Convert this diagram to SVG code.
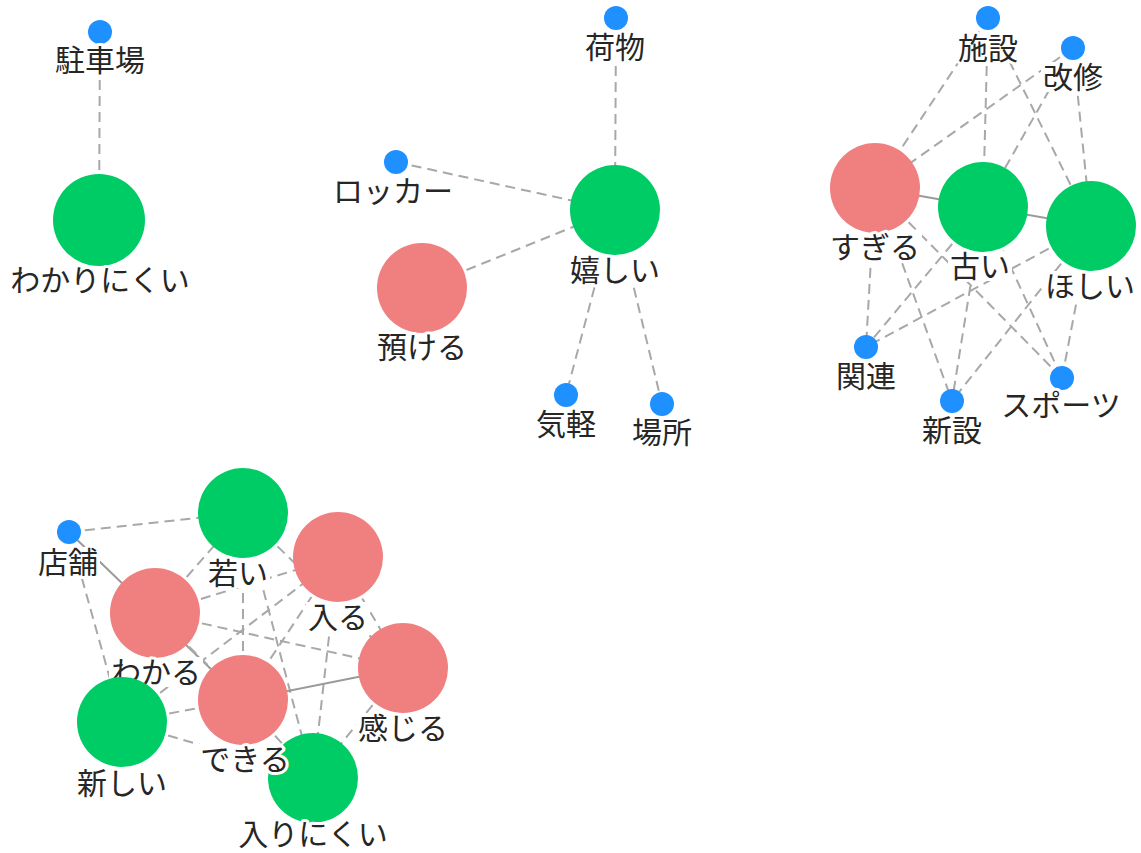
<svg xmlns="http://www.w3.org/2000/svg" width="1141" height="853" viewBox="0 0 1141 853">
<style>
.e{stroke:#a8a8a8;stroke-width:2;stroke-dasharray:10 6;fill:none}
.s{stroke:#9a9a9a;stroke-width:2;fill:none}
.g{fill:#00cc66}
.r{fill:#f08080}
.b{fill:#1e90ff}
text{font-family:"Noto Sans CJK JP","Noto Sans",sans-serif;font-size:30px;fill:#262626;text-anchor:middle;stroke:#fff;stroke-width:6px;stroke-linejoin:round;paint-order:stroke}
</style>
<defs>
<mask id="lm" maskUnits="userSpaceOnUse" x="0" y="0" width="1141" height="853">
<rect x="0" y="0" width="1141" height="853" fill="#fff"/>
<g fill="#000">
<rect x="53" y="45" width="94" height="30"/>
<rect x="8" y="265" width="184" height="30"/>
<rect x="583" y="32" width="64" height="30"/>
<rect x="568" y="255" width="94" height="30"/>
<rect x="331" y="176" width="124" height="30"/>
<rect x="375" y="332" width="94" height="30"/>
<rect x="534" y="409" width="64" height="30"/>
<rect x="630" y="417" width="64" height="30"/>
<rect x="956" y="33" width="64" height="30"/>
<rect x="1041" y="62" width="64" height="30"/>
<rect x="828" y="232" width="94" height="30"/>
<rect x="948" y="251" width="64" height="30"/>
<rect x="1043" y="271" width="94" height="30"/>
<rect x="834" y="361" width="64" height="30"/>
<rect x="920" y="415" width="64" height="30"/>
<rect x="999" y="390" width="124" height="30"/>
<rect x="36" y="547" width="64" height="30"/>
<rect x="206" y="558" width="64" height="30"/>
<rect x="306" y="602" width="64" height="30"/>
<rect x="109" y="657" width="94" height="30"/>
<rect x="356" y="713" width="94" height="30"/>
<rect x="198" y="744" width="94" height="30"/>
<rect x="75" y="768" width="94" height="30"/>
<rect x="236" y="820" width="154" height="30"/>
</g>
</mask>
</defs>
<rect x="0" y="0" width="1141" height="853" fill="#fff"/>
<g id="connectors" mask="url(#lm)">
<line class="e" x1="100" y1="32" x2="99" y2="220"/>
<line class="e" x1="616" y1="18" x2="615" y2="210"/>
<line class="e" x1="396" y1="162" x2="615" y2="210"/>
<line class="e" x1="422" y1="288" x2="615" y2="210"/>
<line class="e" x1="615" y1="210" x2="566" y2="395"/>
<line class="e" x1="615" y1="210" x2="662" y2="404"/>
<line class="e" x1="988" y1="18" x2="875" y2="188"/>
<line class="e" x1="988" y1="18" x2="983" y2="207"/>
<line class="e" x1="988" y1="18" x2="1091" y2="226"/>
<line class="e" x1="1073" y1="48" x2="875" y2="188"/>
<line class="e" x1="1073" y1="48" x2="983" y2="207"/>
<line class="e" x1="1073" y1="48" x2="1091" y2="226"/>
<line class="s" x1="875" y1="188" x2="983" y2="207"/>
<line class="s" x1="983" y1="207" x2="1091" y2="226"/>
<line class="e" x1="875" y1="188" x2="866" y2="347"/>
<line class="e" x1="875" y1="188" x2="952" y2="401"/>
<line class="e" x1="875" y1="188" x2="1062" y2="378"/>
<line class="e" x1="983" y1="207" x2="866" y2="347"/>
<line class="e" x1="983" y1="207" x2="952" y2="401"/>
<line class="e" x1="983" y1="207" x2="1062" y2="378"/>
<line class="e" x1="1091" y1="226" x2="866" y2="347"/>
<line class="e" x1="1091" y1="226" x2="952" y2="401"/>
<line class="e" x1="1091" y1="226" x2="1062" y2="378"/>
<line class="e" x1="69" y1="532" x2="243" y2="513"/>
<line class="e" x1="69" y1="532" x2="122" y2="722"/>
<line class="s" x1="69" y1="532" x2="243" y2="700"/>
<line class="e" x1="155" y1="613" x2="243" y2="513"/>
<line class="e" x1="155" y1="613" x2="338" y2="557"/>
<line class="e" x1="155" y1="613" x2="403" y2="668"/>
<line class="e" x1="155" y1="613" x2="243" y2="700"/>
<line class="e" x1="122" y1="722" x2="338" y2="557"/>
<line class="e" x1="122" y1="722" x2="243" y2="700"/>
<line class="e" x1="122" y1="722" x2="313" y2="778"/>
<line class="e" x1="243" y1="513" x2="243" y2="700"/>
<line class="e" x1="243" y1="513" x2="313" y2="778"/>
<line class="e" x1="243" y1="513" x2="403" y2="668"/>
<line class="e" x1="338" y1="557" x2="243" y2="700"/>
<line class="e" x1="338" y1="557" x2="313" y2="778"/>
<line class="e" x1="338" y1="557" x2="403" y2="668"/>
<line class="s" x1="243" y1="700" x2="403" y2="668"/>
<line class="e" x1="243" y1="700" x2="313" y2="778"/>
<line class="e" x1="403" y1="668" x2="313" y2="778"/>
</g>
<g id="n-chushajo"><circle class="b" cx="100" cy="32" r="12"/><text x="100" y="71">駐車場</text></g>
<g id="n-wakarinikui"><circle class="g" cx="99" cy="220" r="46"/><text x="100" y="291">わかりにくい</text></g>
<g id="n-nimotsu"><circle class="b" cx="616" cy="18" r="12"/><text x="615" y="58">荷物</text></g>
<g id="n-ureshii"><circle class="g" cx="615" cy="210" r="45"/><text x="615" y="281">嬉しい</text></g>
<g id="n-locker"><circle class="b" cx="396" cy="162" r="12"/><text x="393" y="202">ロッカー</text></g>
<g id="n-azukeru"><circle class="r" cx="422" cy="288" r="45"/><text x="422" y="358">預ける</text></g>
<g id="n-kigaru"><circle class="b" cx="566" cy="395" r="12"/><text x="566" y="435">気軽</text></g>
<g id="n-basho"><circle class="b" cx="662" cy="404" r="12"/><text x="662" y="443">場所</text></g>
<g id="n-shisetsu"><circle class="b" cx="988" cy="18" r="12"/><text x="988" y="59">施設</text></g>
<g id="n-kaishu"><circle class="b" cx="1073" cy="48" r="12"/><text x="1073" y="88">改修</text></g>
<g id="n-sugiru"><circle class="r" cx="875" cy="188" r="45"/><text x="875" y="258">すぎる</text></g>
<g id="n-furui"><circle class="g" cx="983" cy="207" r="45"/><text x="980" y="277">古い</text></g>
<g id="n-hoshii"><circle class="g" cx="1091" cy="226" r="45"/><text x="1090" y="297">ほしい</text></g>
<g id="n-kanren"><circle class="b" cx="866" cy="347" r="12"/><text x="866" y="387">関連</text></g>
<g id="n-shinsetsu"><circle class="b" cx="952" cy="401" r="12"/><text x="952" y="441">新設</text></g>
<g id="n-sports"><circle class="b" cx="1062" cy="378" r="12"/><text x="1061" y="416">スポーツ</text></g>
<g id="n-tenpo"><circle class="b" cx="69" cy="532" r="12"/><text x="68" y="573">店舗</text></g>
<g id="n-wakai"><circle class="g" cx="243" cy="513" r="45"/><text x="238" y="584">若い</text></g>
<g id="n-hairu"><circle class="r" cx="338" cy="557" r="45"/><text x="338" y="628">入る</text></g>
<g id="n-wakaru"><circle class="r" cx="155" cy="613" r="45"/><text x="156" y="683">わかる</text></g>
<g id="n-kanjiru"><circle class="r" cx="403" cy="668" r="45"/><text x="403" y="739">感じる</text></g>
<g id="n-dekiru"><circle class="r" cx="243" cy="700" r="45"/></g>
<g id="n-atarashii"><circle class="g" cx="122" cy="722" r="45"/><text x="122" y="794">新しい</text></g>
<g id="n-hairinikui"><circle class="g" cx="313" cy="778" r="45"/><text x="313" y="845">入りにくい</text></g>
<g id="l-dekiru"><text x="245" y="770">できる</text></g>
</svg>
